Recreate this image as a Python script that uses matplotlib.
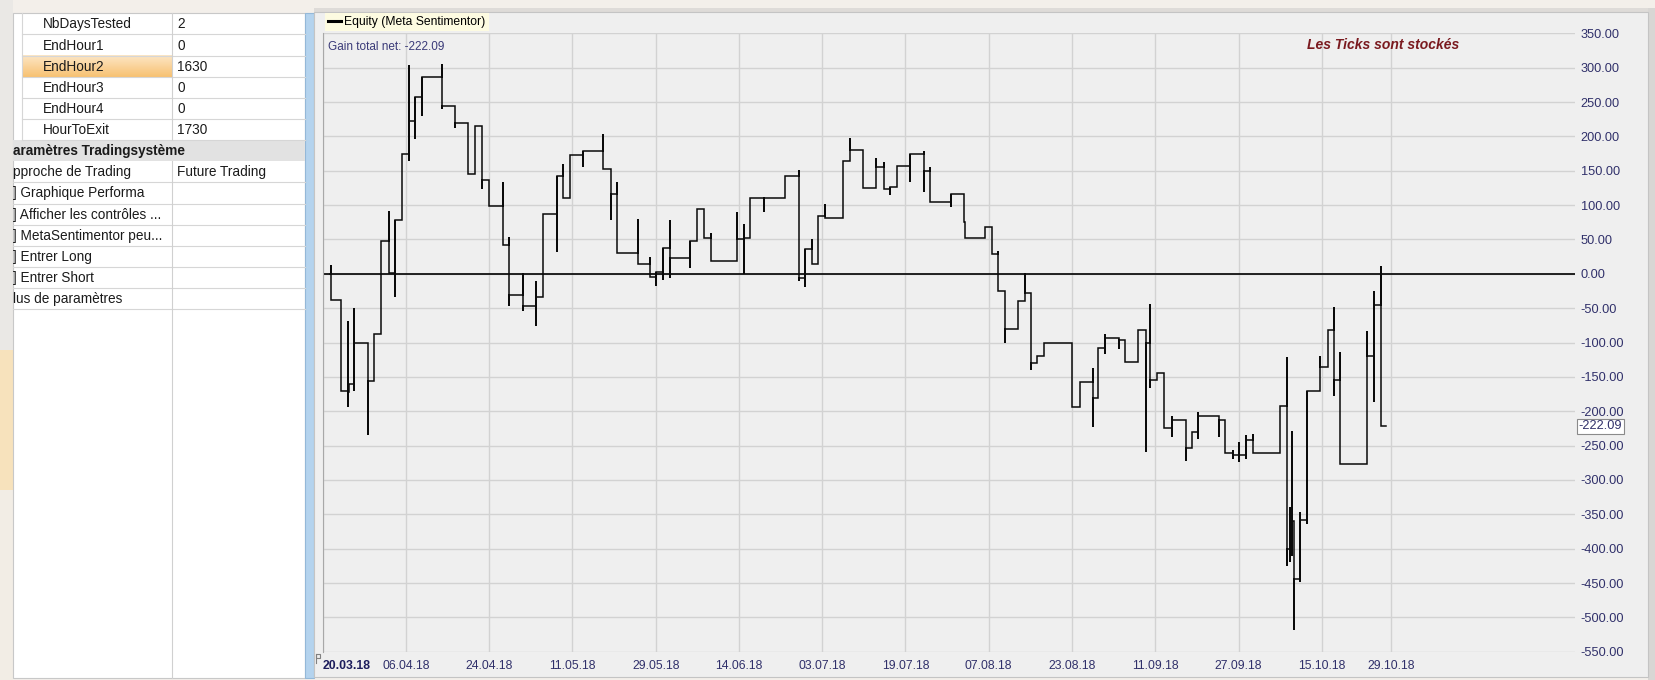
import numpy as np
import matplotlib
matplotlib.use("Agg")
import matplotlib.pyplot as plt
from matplotlib.patches import Rectangle
from matplotlib.lines import Line2D

plt.rcParams['font.family'] = ['Liberation Sans', 'DejaVu Sans']

# ---------------- data ----------------
tick_sessions = [0, 12, 24, 36, 48, 60, 72, 84, 96, 108, 120, 132, 144, 154]
tick_labels = ["20.03.18", "06.04.18", "24.04.18", "11.05.18", "29.05.18", "14.06.18",
               "03.07.18", "19.07.18", "07.08.18", "23.08.18", "11.09.18", "27.09.18",
               "15.10.18", "29.10.18"]
y_ticks = list(range(-550, 351, 50))

start_session = 1.0
start_value = 0.0
end_session = 153.3
final_gain = -222.09

step_session = [1.2, 2.6, 3.6, 3.8, 4.5, 6.5, 7.4, 8.4, 9.5, 10.4, 11.4, 12.4, 13.3, 14.3,
                17.2, 19.1, 21.0, 22.0, 22.9, 23.9, 26.0, 26.9, 28.8, 30.8, 31.7, 33.7,
                34.6, 35.6, 37.5, 40.4, 41.5, 42.4, 45.4, 47.2, 48.1, 49.0, 50.0, 52.9,
                53.9, 54.9, 55.9, 59.7, 60.7, 61.6, 63.6, 66.6, 68.6, 69.5, 70.5, 71.4,
                72.4, 75.0, 76.0, 77.9, 79.8, 80.9, 81.8, 82.8, 84.7, 86.6, 87.6, 90.5,
                92.4, 92.6, 95.4, 96.4, 97.3, 98.3, 100.2, 101.2, 102.1, 102.9, 104.0,
                108.0, 109.1, 111.0, 111.8, 112.8, 114.8, 115.6, 117.5, 118.6, 119.2,
                120.3, 121.3, 122.4, 124.4, 125.3, 126.2, 129.2, 130.1, 131.2, 132.1,
                133.1, 134.1, 138.0, 139.0, 139.4, 139.7, 140.0, 140.9, 141.9, 143.8,
                144.9, 145.7, 146.7, 150.5, 151.5, 152.6]
step_value = [-38, -170, -172, -160, -100, -156, -87, 48, 1, 78, 174, 222, 258, 286,
              244, 220, 145, 215, 136, 98, 42, -31, -47, -33, 87, 143,
              111, 173, 179, 153, 116, 30, 14, -4, 3, 37, 23, 48,
              95, 52, 18, 51, 52, 111, 111, 143, -6, 36, 15, 84,
              81, 164, 180, 125, 155, 124, 126, 157, 174, 150, 105, 116,
              75, 52, 68, 29, -25, -80, -39, -28, -130, -120, -100,
              -194, -157, -180, -108, -94, -97, -129, -82, -100, -154,
              -144, -224, -213, -254, -230, -207, -213, -260, -263, -263,
              -242, -260, -193, -400, -390, -360, -444, -358, -170, -136,
              -82, -154, -277, -120, -45, -222.09]
step_high = [13, -38, -68, -160, -50, -100, -87, 48, 92, 78, 174, 304, 258, 286,
             305, 244, 220, 215, 215, 136, 134, 54, 1, -11, 87, 143,
             160, 173, 179, 204, 153, 133, 80, 25, 3, 37, 78, 48,
             95, 95, 59, 90, 73, 111, 111, 143, 151, 36, 50, 84,
             101, 164, 197, 180, 168, 162, 126, 157, 174, 179, 156, 116,
             116, 75, 68, 68, 33, -25, -39, 1, -28, -120, -100,
             -100, -157, -137, -108, -87, -94, -97, -82, -82, -44,
             -144, -144, -207, -213, -230, -201, -207, -213, -257, -244,
             -234, -233, -193, -121, -340, -228, -360, -346, -170, -119,
             -82, -48, -114, -83, -25, 11]
step_low = [-38, -170, -194, -172, -170, -235, -156, -87, 1, -33, 78, 164, 196, 229,
            240, 212, 145, 145, 124, 98, 42, -47, -54, -76, -33, 32,
            111, 111, 155, 153, 78, 30, 14, -4, -18, -9, -6, 8,
            48, 52, 18, 18, 0, 52, 90, 111, -10, -19, 15, 15,
            81, 81, 164, 125, 125, 124, 114, 126, 134, 119, 105, 97,
            75, 52, 52, 29, -25, -100, -80, -39, -140, -130, -120,
            -194, -194, -223, -180, -116, -110, -129, -129, -259, -166,
            -154, -224, -238, -273, -254, -241, -237, -260, -270, -274,
            -270, -260, -260, -425, -420, -410, -518, -448, -364, -170,
            -136, -178, -277, -277, -186, -221]

param_names = ["NbDaysTested", "EndHour1", "EndHour2", "EndHour3", "EndHour4", "HourToExit"]
param_values = ["2", "0", "1630", "0", "0", "1730"]
section_title = "aramètres Tradingsystème"
option_names = ["pproche de Trading", "] Graphique Performa", "] Afficher les contrôles ...",
                "] MetaSentimentor peu...", "] Entrer Long", "] Entrer Short",
                "lus de paramètres"]
option_values = ["Future Trading", "", "", "", "", "", ""]

legend_label = "Equity (Meta Sentimentor)"
notice_text = "Les Ticks sont stockés"

# ---------------- build equity polyline ----------------
xs = [start_session]
ys = [start_value]
prev = start_value
for s, v, hi, lo in zip(step_session, step_value, step_high, step_low):
    xs += [s, s, s, s]
    ys += [prev, max(hi, prev, v), min(lo, prev, v), v]
    prev = v
xs.append(end_session)
ys.append(prev)

# ---------------- figure ----------------
W, H = 1655, 680
fig = plt.figure(figsize=(W / 100, H / 100), dpi=100)
fig.patch.set_facecolor('#f3efea')

bg = fig.add_axes([0, 0, 1, 1])
bg.set_xlim(0, W)
bg.set_ylim(H, 0)
bg.axis('off')

# left strip of the screenshot backdrop
grad = np.ones((H, 1, 3))
yy = np.arange(H)
for c, (a, b, m) in enumerate([(0.92, 0.97, 0.95), (0.91, 0.89, 0.93), (0.90, 0.74, 0.90)]):
    grad[:, 0, c] = np.where(yy < 350, a, np.where(yy < 490, b, m))
bg.imshow(grad, extent=(0, 13, H, 0), aspect='auto', zorder=0)

# table
tbl_left, tbl_right, col_div = 13, 305, 172
row_top, row_h = 13.3, 21.14
bg.add_patch(Rectangle((tbl_left, row_top), tbl_right - tbl_left, H - row_top - 2,
                       fc='white', ec='#c8c8c8', lw=0.8, zorder=1))
fs_tbl = 9.8
for i, (n, v) in enumerate(zip(param_names, param_values)):
    y0 = row_top + i * row_h
    if n == "EndHour2":
        g = np.clip(np.array([0.99, 0.90, 0.77])
                    - np.linspace(0, 1, 20)[:, None, None] * np.array([0.02, 0.14, 0.32]), 0, 1)
        bg.imshow(g, extent=(22, col_div, y0 + row_h, y0), aspect='auto', zorder=1.5)
    bg.plot([22, tbl_right], [y0 + row_h, y0 + row_h], color='#d6d6d6', lw=0.8, zorder=2)
    bg.text(43, y0 + row_h / 2 + 0.5, n, fontsize=fs_tbl, va='center', ha='left', color='#1b1b1b', zorder=3)
    bg.text(177, y0 + row_h / 2 + 0.5, v, fontsize=fs_tbl, va='center', ha='left', color='#1b1b1b', zorder=3)
bg.plot([22, 22], [row_top, row_top + 6 * row_h], color='#d6d6d6', lw=0.8, zorder=2)

hy = row_top + 6 * row_h
bg.add_patch(Rectangle((tbl_left, hy), tbl_right - tbl_left, row_h, fc='#e2e2e2', ec='none', zorder=1.5))
bg.text(tbl_left, hy + row_h / 2 + 0.5, section_title, fontsize=fs_tbl, fontweight='bold',
        va='center', ha='left', color='#1b1b1b', zorder=3)
for j, (n, v) in enumerate(zip(option_names, option_values)):
    y0 = row_top + (7 + j) * row_h
    bg.plot([tbl_left, tbl_right], [y0 + row_h, y0 + row_h], color='#d6d6d6', lw=0.8, zorder=2)
    bg.text(tbl_left, y0 + row_h / 2 + 0.5, n, fontsize=fs_tbl, va='center', ha='left', color='#1b1b1b', zorder=3)
    if v:
        bg.text(177, y0 + row_h / 2 + 0.5, v, fontsize=fs_tbl, va='center', ha='left', color='#1b1b1b', zorder=3)
bg.plot([col_div, col_div], [row_top, hy], color='#d0d0d0', lw=0.8, zorder=2)
bg.plot([col_div, col_div], [hy + row_h, H - 2], color='#d0d0d0', lw=0.8, zorder=2)

# splitter bar
bg.add_patch(Rectangle((305, 13), 9, H - 15, fc='#b4d3ee', ec='#94b8d8', lw=0.8, zorder=1))
# chart panel
bg.add_patch(Rectangle((314, 8), 1341, 5, fc='#dedbd8', ec='none', zorder=0.5))
bg.add_patch(Rectangle((1648, 8), 7, H - 8, fc='#d8d6d4', ec='none', zorder=0.5))
bg.add_patch(Rectangle((314, 12), 1334, H - 15, fc='#efefef', ec='#c4c4c4', lw=0.8, zorder=1))
# small pin icon near first date
bg.add_patch(Rectangle((316, 654), 4, 4, fill=False, ec='#808080', lw=0.8, zorder=3))
bg.plot([316, 316], [654, 663], color='#808080', lw=0.8, zorder=3)

# ---------------- chart axes ----------------
ax_left, ax_right = 322.7, 1575.0
ax_top, ax_bot = 33.3, 651.8
ax = fig.add_axes([ax_left / W, (H - ax_bot) / H, (ax_right - ax_left) / W, (ax_bot - ax_top) / H])
ax.set_zorder(2)
ax.set_facecolor('#efefef')

ax.plot(xs, ys, color='#0a0a0a', lw=1.1, solid_joinstyle='miter', zorder=3)
ax.axhline(0, color='#111111', lw=1.3, zorder=2.5)

ax.set_xlim(0, 180.5)
ax.set_ylim(y_ticks[0], y_ticks[-1])
ax.set_xticks(tick_sessions)
ax.set_xticklabels(tick_labels)
ax.set_yticks(y_ticks)
ax.set_yticklabels([f"{t:.2f}" for t in y_ticks])
ax.yaxis.tick_right()
ax.tick_params(axis='y', length=0, pad=4, labelsize=9.2, labelcolor='#30306a')
ax.tick_params(axis='x', length=0, pad=6, labelsize=8.8, labelcolor='#30306a')
xl = ax.get_xticklabels()
xl[0].set_ha('left')
xl[0].set_fontweight('bold')
xl[0].set_color('#1c1c5c')

ax.grid(True, color='#d2d2d2', lw=1.0)
ax.set_axisbelow(True)
for s in ['top', 'right', 'bottom']:
    ax.spines[s].set_visible(False)
ax.spines['left'].set_color('#a8a8a8')

handle = Line2D([], [], color='black', lw=2.2)
leg = ax.legend([handle], [legend_label], loc='lower left', bbox_to_anchor=(0.0, 1.0),
                borderaxespad=0.15, frameon=True, fancybox=False, facecolor='#fdfbe1',
                edgecolor='none', framealpha=1, fontsize=8.7, handlelength=1.1,
                handletextpad=0.3, borderpad=0.25)

ax.text(0.0045, 0.978, f"Gain total net: {final_gain:.2f}", transform=ax.transAxes,
        fontsize=8.5, color='#3a3a78', va='center', ha='left')
ax.text(0.847, 0.981, notice_text, transform=ax.transAxes, fontsize=10,
        fontweight='bold', fontstyle='italic', color='#7a1a1f', va='center', ha='center')
ax.text(1.003, final_gain, f"{final_gain:.2f}", transform=ax.get_yaxis_transform(),
        fontsize=9.2, color='#30306a', va='center', ha='left', zorder=5,
        bbox=dict(boxstyle='square,pad=0.12', fc='white', ec='#8a8a8a', lw=0.8))

fig.savefig('out.png', dpi=100, facecolor=fig.get_facecolor())
